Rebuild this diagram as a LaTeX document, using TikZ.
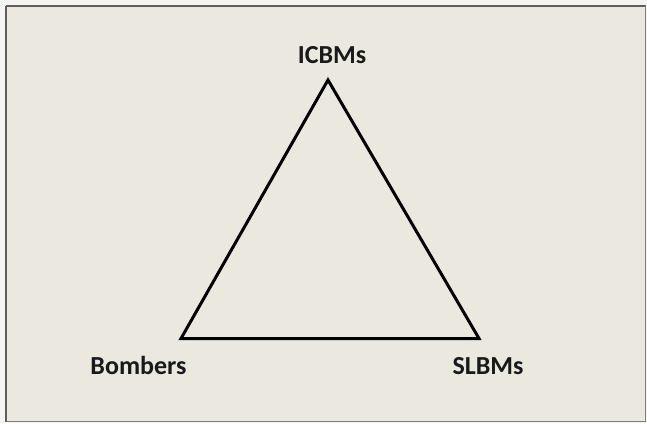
\documentclass[tikz,border=0pt]{standalone}
\usepackage{fontspec}
\setmainfont{Carlito}
\definecolor{bgpanel}{HTML}{EBE8DF}
\definecolor{outerbg}{HTML}{F4F4F2}
\definecolor{framecol}{HTML}{5E5E5E}
\tikzset{
  lbl/.style={font=\fontsize{26}{30}\selectfont\bfseries, text=black!90, inner sep=0pt},
  tri/.style={line width=3pt, line join=miter, black}
}
\begin{document}
\begin{tikzpicture}[x=1pt,y=-1pt]
\useasboundingbox (0,0) rectangle (647,423);
\fill[outerbg] (0,0) rectangle (647,423);
\fill[bgpanel] (6,6) rectangle (645.5,421.5);
\draw[framecol, line width=2pt] (6,6) -- (6,421.5);
\draw[framecol, line width=2pt] (6,6) -- (645.5,6);
\draw[framecol!80, line width=1.2pt] (645.5,6) -- (645.5,421.5) -- (6,421.5);
\coordinate (top) at (328,80);
\coordinate (bl) at (181,338.5);
\coordinate (br) at (479,338.5);
\draw[tri] (top) -- (bl) -- (br) -- cycle;
\node[lbl, anchor=base] (icbm) at (332,63) {ICBMs};
\node[lbl, anchor=base] (bomb) at (138.5,374) {Bombers};
\node[lbl, anchor=base] (slbm) at (488,374) {SLBMs};
\end{tikzpicture}
\end{document}
